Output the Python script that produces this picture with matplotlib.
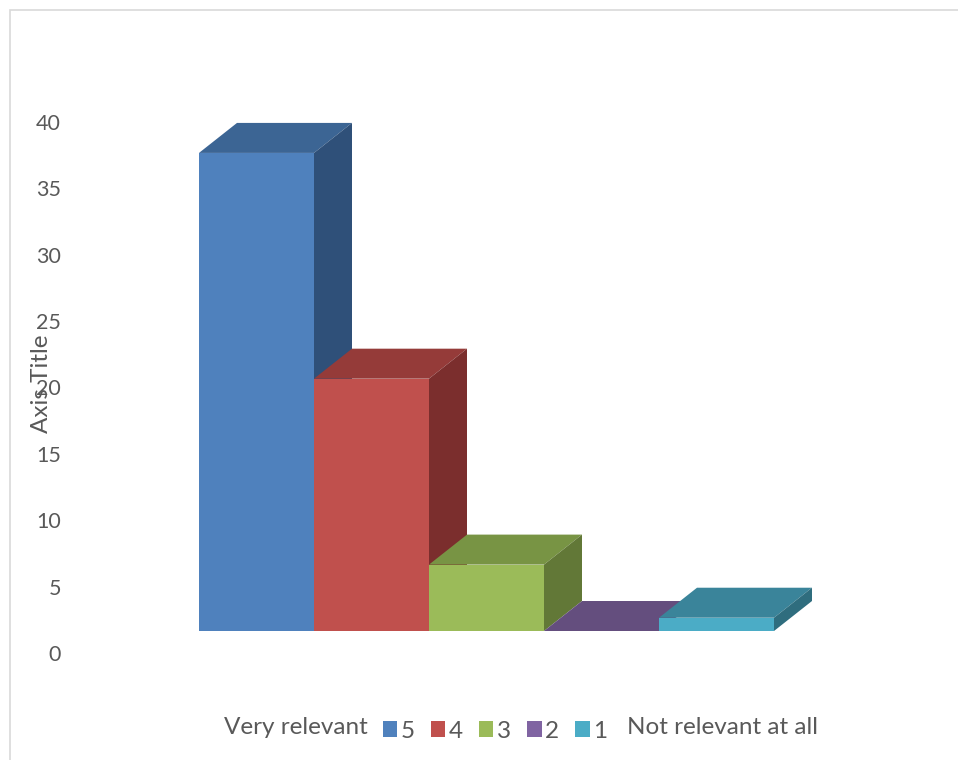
import matplotlib
matplotlib.use("Agg")
import matplotlib.pyplot as plt
from matplotlib.patches import Polygon, Rectangle

# ---- data ----
series = ["5", "4", "3", "2", "1"]
values = [36, 19, 5, 0, 1]
yticks = [0, 5, 10, 15, 20, 25, 30, 35, 40]
y_title = "Axis Title"
left_label = "Very relevant"
right_label = "Not relevant at all"

# ---- style ----
front_colors = ["#4F81BD", "#C0504D", "#9BBB59", "#8064A2", "#4BACC6"]
top_colors = ["#3C6594", "#953B39", "#789444", "#644E7E", "#3A849A"]
side_colors = ["#2F5079", "#7B2E2D", "#627837", "#513F68", "#2F6D7E"]
text_color = "#595959"
plt.rcParams["font.family"] = ["Lato", "DejaVu Sans"]
fs_text = 17.5
fs_tick = 15.5

W, H = 958, 760
fig = plt.figure(figsize=(W / 100, H / 100), dpi=100)
fig.patch.set_facecolor("white")

# outer chart border (only top/left visible in reference)
fig.patches.append(Rectangle((10 / W, -0.1), 1.2, (H - 10) / H + 0.1,
                             transform=fig.transFigure, fill=False,
                             edgecolor="#D9D9D9", linewidth=1.2))

# plot area in pixels
px_l, px_r, px_t, px_b = 70, 900, 100, 690
ax = fig.add_axes([px_l / W, 1 - px_b / H, (px_r - px_l) / W, (px_b - px_t) / H])
y_per_px = 1 / 13.28     # value units per pixel
x_per_px = 1 / 115.0     # category units per pixel
zero_px, first_bar_px = 653, 199
ax.set_ylim(-(px_b - zero_px) * y_per_px, (zero_px - px_t) * y_per_px)
ax.set_xlim((px_l - first_bar_px) * x_per_px, (px_r - first_bar_px) * x_per_px)

# 3D projection offsets
DX = 38 * x_per_px
DY = 30 * y_per_px
BASE = 22 * y_per_px

for i, (name, v) in enumerate(zip(series, values)):
    x = i
    z = 10 + 3 * i
    ax.bar([x], [v], width=1, bottom=BASE, align="edge", color=front_colors[i],
           linewidth=0, zorder=z, label=name)
    top = [(x, BASE + v), (x + 1, BASE + v), (x + 1 + DX, BASE + v + DY), (x + DX, BASE + v + DY)]
    side = [(x + 1, BASE), (x + 1 + DX, BASE + DY), (x + 1 + DX, BASE + v + DY), (x + 1, BASE + v)]
    ax.add_patch(Polygon(top, closed=True, facecolor=top_colors[i], edgecolor="none", zorder=z + 1))
    ax.add_patch(Polygon(side, closed=True, facecolor=side_colors[i], edgecolor="none", zorder=z + 2))

for s in ax.spines.values():
    s.set_visible(False)
ax.set_xticks([])
ax.set_yticks(yticks)
ax.set_yticklabels([str(t) for t in yticks])
ax.tick_params(axis="y", length=0, pad=6.5, labelsize=fs_tick, labelcolor=text_color)

ax.set_ylabel(y_title, fontsize=fs_text, color=text_color)
ax.yaxis.label.set_verticalalignment("center")
ax.yaxis.set_label_coords((41 - px_l) / (px_r - px_l), (px_b - 384) / (px_b - px_t))

handles, labels = ax.get_legend_handles_labels()
fig.legend(handles, labels, loc="center", bbox_to_anchor=(495 / W, 1 - 731 / H),
           ncol=5, frameon=False, fontsize=fs_text, labelcolor=text_color,
           handlelength=0.6, handleheight=0.6, handletextpad=0.15, columnspacing=0.65)

fig.text(368 / W, 1 - 727 / H, left_label, ha="right", va="center", fontsize=fs_text, color=text_color)
fig.text(627 / W, 1 - 727 / H, right_label, ha="left", va="center", fontsize=fs_text, color=text_color)

fig.savefig("out.png", dpi=100, facecolor="white")
